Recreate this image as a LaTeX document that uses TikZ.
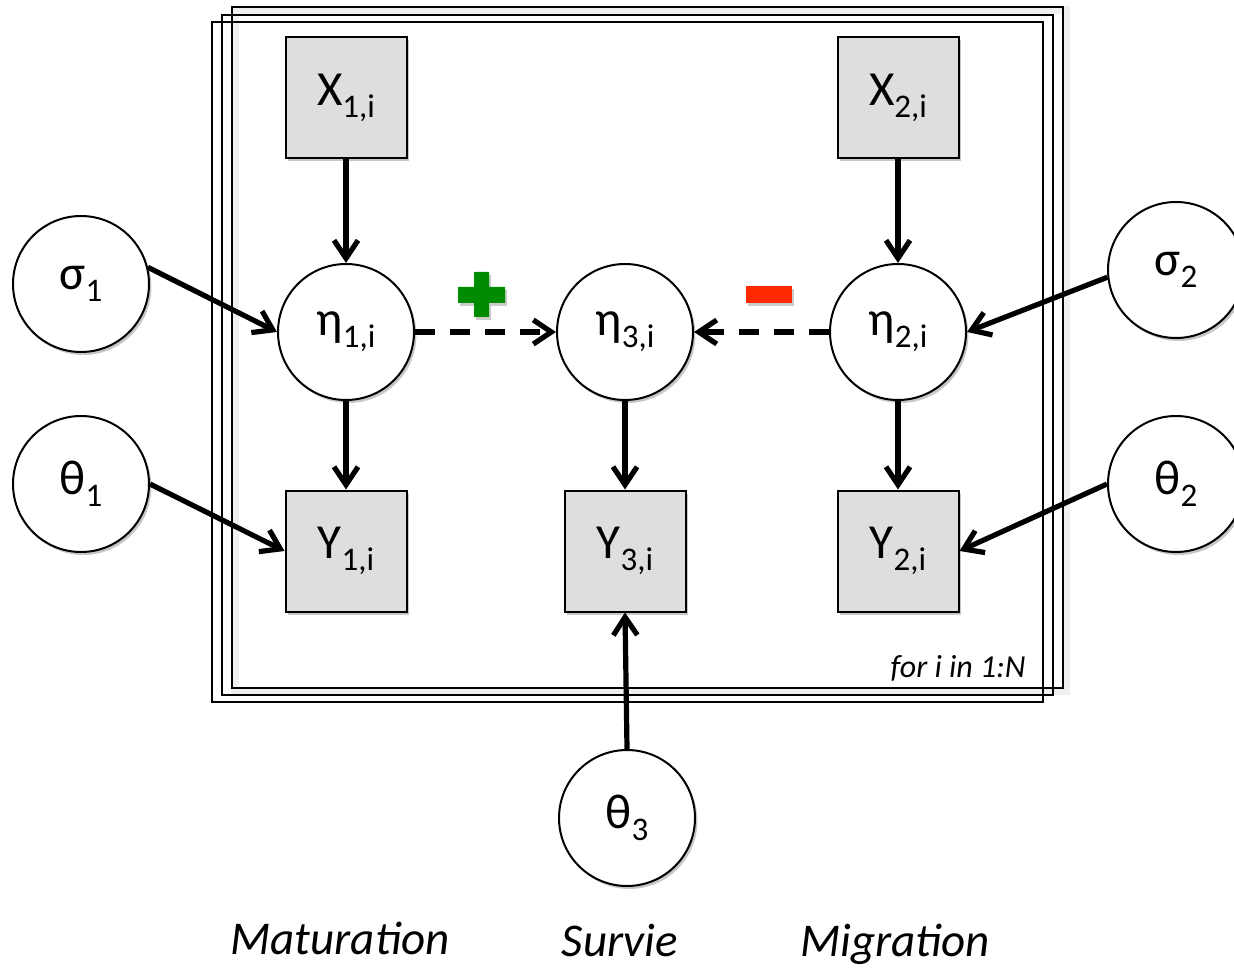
\documentclass[tikz,border=0pt]{standalone}
\usepackage{fontspec}
\setmainfont{Carlito}
\usetikzlibrary{arrows.meta,shadows}
\definecolor{boxgray}{RGB}{222,222,222}
\definecolor{plusgreen}{RGB}{0,140,0}
\definecolor{minusred}{RGB}{255,40,0}
\newcommand{\mysub}[1]{\raisebox{-6pt}{\fontsize{16.5}{19}\selectfont #1}}
\begin{document}
\begin{tikzpicture}[x=0.5pt,y=-0.5pt,
  sh/.style={drop shadow={shadow xshift=1.2pt,shadow yshift=-1.5pt,opacity=0.22,fill=black}},
  obsbox/.style={draw,line width=1pt,fill=boxgray,minimum size=60.5pt,inner sep=0pt,sh,font=\fontsize{24.5}{28}\selectfont},
  latent/.style={circle,draw,line width=1pt,fill=white,minimum size=68pt,inner sep=0pt,sh,font=\fontsize{24.5}{28}\selectfont},
  plate/.style={draw,line width=1pt},
  arr/.style={line width=2.6pt,-{Straight Barb[length=9pt,width=12pt,line width=2.6pt]}},
  darr/.style={arr,dash pattern=on 10pt off 7.5pt},
  lab/.style={font=\fontsize{23.5}{27}\selectfont\itshape,inner sep=0pt},
  markshadow/.style={drop shadow={shadow xshift=1pt,shadow yshift=-1.5pt,opacity=0.2,fill=black}}
]
\useasboundingbox (0,0) rectangle (1234,967);
% plates
\draw[plate,black!6,line width=4pt] (235,10) rectangle (1066,691);
\draw[plate] (232,7) rectangle (1063,688);
\draw[plate] (222,15) rectangle (1053,695);
\draw[plate] (212,22) rectangle (1043,702);
\node[font=\fontsize{16}{19}\selectfont\itshape,anchor=base east,inner sep=0pt] (plab) at (1026,677) {for i in 1:N};

% observed
\node[obsbox] (X1) at (346,98) {X\mysub{1,i}};
\node[obsbox] (X2) at (898,98) {X\mysub{2,i}};
\node[obsbox] (Y1) at (346,551) {Y\mysub{1,i}};
\node[obsbox] (Y3) at (625,551) {Y\mysub{3,i}};
\node[obsbox] (Y2) at (898,551) {Y\mysub{2,i}};

% latent
\node[latent] (E1) at (346,332) {η\mysub{1,i}};
\node[latent] (E3) at (625,332) {η\mysub{3,i}};
\node[latent] (E2) at (898,332) {η\mysub{2,i}};
\node[latent] (S1) at (81,284) {σ\mysub{1}};
\node[latent] (T1) at (81,484) {θ\mysub{1}};
\node[latent] (S2) at (1176,270) {σ\mysub{2}};
\node[latent] (T2) at (1176,484) {θ\mysub{2}};
\node[latent] (T3) at (627,818) {θ\mysub{3}};

% arrows
\draw[arr] (X1.south) -- (E1.north);
\draw[arr] (X2.south) -- (E2.north);
\draw[arr] (E1.south) -- (Y1.north);
\draw[arr] (E3.south) -- (Y3.north);
\draw[arr] (E2.south) -- (Y2.north);
\draw[arr] (S1.14) -- (E1.west);
\draw[arr] (T1.east) -- (Y1.west);
\draw[arr] (S2.186) -- (E2.east);
\draw[arr] (T2.west) -- (Y2.east);
\draw[arr] (T3.north) -- (Y3.south);
\draw[darr] (E1.east) -- (E3.west);
\draw[darr] (E2.west) -- (E3.east);

% plus and minus marks
\fill[plusgreen,markshadow]
  (474,272) -- (489,272) -- (489,287) -- (505,287) -- (505,303) -- (489,303) -- (489,317)
  -- (474,317) -- (474,303) -- (458,303) -- (458,287) -- (474,287) -- cycle;
\fill[minusred,markshadow] (746,286) rectangle (792,303);

% labels
\node[lab,anchor=base] (lm) at (340,954) {Maturation};
\node[lab,anchor=base] (ls) at (620,956) {Survie};
\node[lab,anchor=base] (lg) at (895,956) {Migration};
\end{tikzpicture}
\end{document}
